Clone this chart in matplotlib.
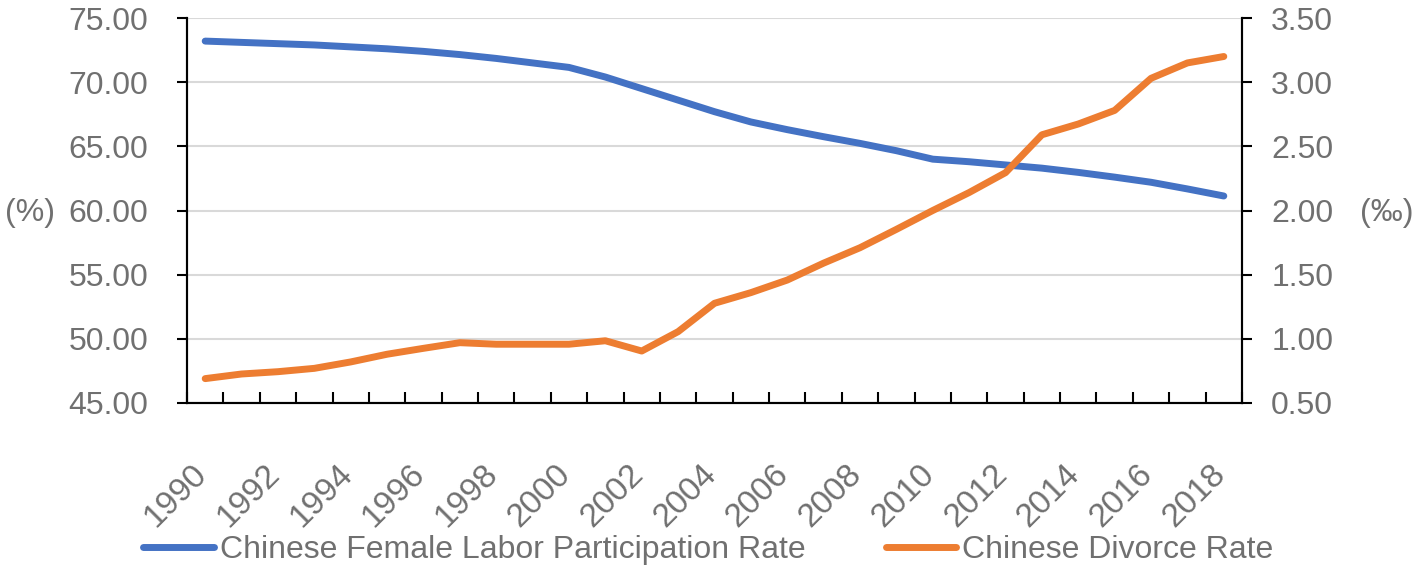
import matplotlib.pyplot as plt
import matplotlib.transforms as mtransforms
import numpy as np

plt.rcParams['font.family'] = ['Liberation Sans', 'DejaVu Sans']

years = list(range(1990, 2019))
labor_rate = [73.2, 73.1, 73.0, 72.9, 72.75, 72.6, 72.4, 72.15, 71.85, 71.5,
              71.15, 70.4, 69.5, 68.6, 67.7, 66.9, 66.3, 65.75, 65.23, 64.66,
              64.0, 63.8, 63.55, 63.3, 62.97, 62.6, 62.2, 61.68, 61.13]
divorce_rate = [0.69, 0.726, 0.744, 0.77, 0.82, 0.88, 0.926, 0.97, 0.958, 0.958,
                0.958, 0.985, 0.905, 1.056, 1.277, 1.36, 1.458, 1.59, 1.71, 1.853,
                2.0, 2.14, 2.295, 2.59, 2.674, 2.78, 3.03, 3.15, 3.2]
left_ticks = [45, 50, 55, 60, 65, 70, 75]
right_ticks = [0.5, 1.0, 1.5, 2.0, 2.5, 3.0, 3.5]

gray = '#707070'
blue = '#4472C4'
orange = '#ED7D31'
fs = 23

fig = plt.figure(figsize=(14.17, 5.78), dpi=100)
ax = fig.add_axes([187 / 1417, 175 / 578, 1055 / 1417, 385 / 578])
ax2 = ax.twinx()

x = np.arange(len(years))
l1, = ax.plot(x, labor_rate, color=blue, lw=5, solid_capstyle='round',
              label='Chinese Female Labor Participation Rate', zorder=3)
l2, = ax2.plot(x, divorce_rate, color=orange, lw=5, solid_capstyle='round',
               label='Chinese Divorce Rate', zorder=3)

ax.set_xlim(-0.5, len(years) - 0.5)
ax.set_ylim(45, 75)
ax2.set_ylim(0.5, 3.5)
ax.set_yticks(left_ticks)
ax.set_yticklabels([f'{v:.2f}' for v in left_ticks])
ax2.set_yticks(right_ticks)
ax2.set_yticklabels([f'{v:.2f}' for v in right_ticks])

# ticks between categories, labels on every other year
ax.set_xticks(np.arange(-0.5, len(years), 1.0))
ax.set_xticklabels([])
ax.set_xticks(x[::2], minor=True)
ax.set_xticklabels([str(y) for y in years[::2]], minor=True, rotation=45,
                   ha='right', rotation_mode='anchor', fontsize=24, color=gray)
ax.tick_params(axis='x', which='major', direction='in', length=8, width=1.5, color='black')
ax.tick_params(axis='x', which='minor', length=0, pad=40)
shift = mtransforms.ScaledTranslation(-14 / 100, 0, fig.dpi_scale_trans)
for lab in ax.get_xticklabels(minor=True):
    lab.set_transform(lab.get_transform() + shift)

ax.tick_params(axis='y', direction='out', length=7, width=1.5, pad=21,
               labelsize=fs, labelcolor=gray)
ax2.tick_params(axis='y', direction='out', length=7, width=1.5, pad=14,
                labelsize=fs, labelcolor=gray)

ax.grid(axis='y', color='#d9d9d9', lw=1.5, zorder=0)
ax.set_axisbelow(True)

for a in (ax, ax2):
    a.spines['top'].set_visible(False)
    for s in ('left', 'right', 'bottom'):
        a.spines[s].set_linewidth(1.5)
        a.spines[s].set_color('black')

ax.set_ylabel('(%)', rotation=0, ha='left', va='center', fontsize=fs, color=gray)
ax.yaxis.set_label_coords(-0.1725, 0.4935)
ax2.set_ylabel('(‰)', rotation=0, ha='left', va='center', fontsize=fs, color=gray)
ax2.yaxis.set_label_coords(1.112, 0.4935)

fig.legend(handles=[l1, l2], loc='center', bbox_to_anchor=(0.5, 0.048), ncol=2,
           frameon=False, fontsize=fs, labelcolor=gray, handlelength=2.2,
           handletextpad=0.2, columnspacing=2.5)

fig.savefig('out.png', dpi=100)
